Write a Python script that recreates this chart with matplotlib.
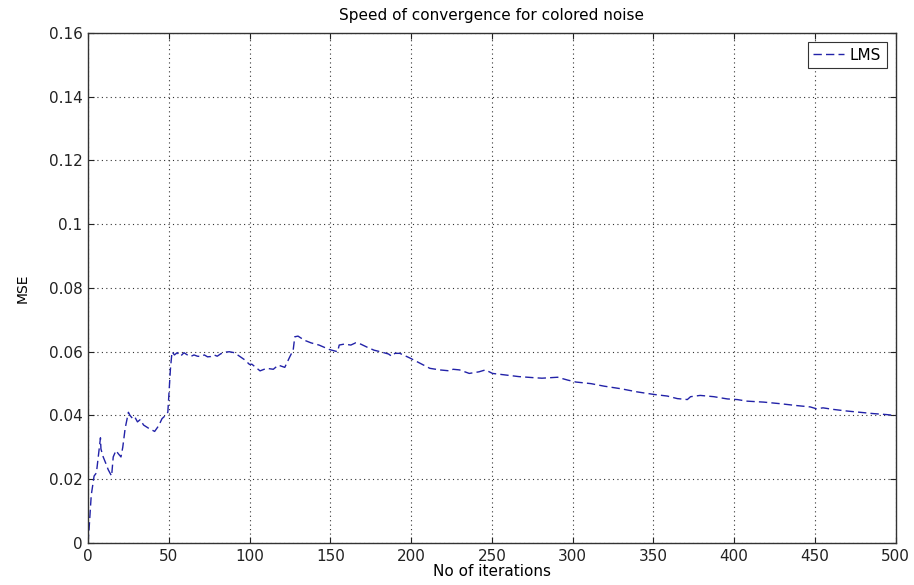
import matplotlib
matplotlib.use("Agg")
import matplotlib.pyplot as plt

plt.rcParams['font.family'] = ['DejaVu Sans']

# iteration number
iters = [0, 0.6, 2, 3.75, 5.2, 7.7, 8, 9.4, 11, 12.5, 14.6, 15.6, 17.3, 18.75, 20.4,
         21.5, 23, 25, 26, 27.7, 29, 30.6, 32.3, 34.4, 37.5, 41.25, 43.75, 45.8, 47.9,
         49.4, 50, 51, 52, 53.5, 55.2, 57.3, 59.4, 61.5, 63.5, 65.6, 67.7, 69.8, 72, 74,
         76, 78, 80, 82.3, 85.4, 87.5, 90.6, 93.75, 96.9, 100, 101.4, 106.5, 110.6, 114.7,
         117.8, 121.8, 124.9, 127, 128, 130, 134, 138, 143, 149.4, 154.5, 155.5, 158.6,
         162.7, 165.7, 168.8, 172.9, 177, 181, 186, 188, 190, 193, 199.4, 205.5, 211.6,
         217.8, 223.9, 226, 230, 236, 242, 246, 250.4, 258.6, 266.7, 274.9, 281, 290.7,
         297, 302, 311.3, 319.5, 329.8, 340, 350.4, 358.6, 364.8, 371, 373, 379, 387.4,
         395.7, 401.9, 408, 418.3, 428.6, 438.9, 447, 451, 455, 461.5, 469.8, 478, 486,
         494, 500]
# mean square error
mse = [0, 0.004, 0.015, 0.021, 0.022, 0.033, 0.0295, 0.027, 0.025, 0.023, 0.021, 0.027,
       0.029, 0.028, 0.027, 0.030, 0.036, 0.041, 0.040, 0.039, 0.0395, 0.038, 0.0387,
       0.037, 0.036, 0.035, 0.0368, 0.039, 0.040, 0.041, 0.046, 0.0545, 0.060, 0.059,
       0.0597, 0.0586, 0.0597, 0.059, 0.0585, 0.059, 0.0586, 0.0585, 0.059, 0.0584,
       0.0585, 0.059, 0.0586, 0.0594, 0.0599, 0.060, 0.0597, 0.0586, 0.0575, 0.056,
       0.0561, 0.054, 0.0548, 0.0545, 0.0558, 0.0551, 0.0584, 0.0605, 0.0647, 0.0649,
       0.0636, 0.0628, 0.0621, 0.0607, 0.060, 0.0621, 0.0624, 0.0621, 0.0628, 0.0624,
       0.0614, 0.0605, 0.060, 0.0593, 0.0586, 0.0595, 0.0595, 0.058, 0.0564, 0.0548,
       0.0543, 0.054, 0.0545, 0.0543, 0.0532, 0.0537, 0.0543, 0.0532, 0.0527, 0.0522,
       0.0519, 0.0517, 0.052, 0.0511, 0.0505, 0.050, 0.0492, 0.0484, 0.0474, 0.0466,
       0.0461, 0.0453, 0.045, 0.0459, 0.0463, 0.0459, 0.0452, 0.045, 0.0445, 0.0442,
       0.0437, 0.0431, 0.0427, 0.0421, 0.0424, 0.0419, 0.0414, 0.041, 0.0406, 0.0403,
       0.040]

xticks = [0, 50, 100, 150, 200, 250, 300, 350, 400, 450, 500]
yticks = [0, 0.02, 0.04, 0.06, 0.08, 0.1, 0.12, 0.14, 0.16]
ytick_labels = ['0', '0.02', '0.04', '0.06', '0.08', '0.1', '0.12', '0.14', '0.16']

fig = plt.figure(figsize=(9.14, 5.85), dpi=100)
ax = fig.add_axes([0.0963, 0.0718, 0.8837, 0.8718])

ax.plot(iters, mse, '--', color='#2222a8', linewidth=1.0, dashes=(6, 3), label='LMS')

ax.set_xlim(0, 500)
ax.set_ylim(0, 0.16)
ax.set_xticks(xticks)
ax.set_yticks(yticks)
ax.set_yticklabels(ytick_labels)
ax.tick_params(direction='in', length=4.5, labelsize=11, colors='#222222', top=True, right=True,
               labeltop=False, labelright=False, pad=4)
ax.grid(True, linestyle=(0, (1, 3)), color='#333333', linewidth=0.8)
for s in ax.spines.values():
    s.set_linewidth(1.0)
    s.set_color('#333333')

ax.set_title('Speed of convergence for colored noise', fontsize=11, pad=9)
ax.set_xlabel('No of iterations', fontsize=11, labelpad=0)
ax.set_ylabel('MSE', fontsize=10, labelpad=14)

leg = ax.legend(loc='upper right', fontsize=11, fancybox=False, framealpha=1,
                edgecolor='#333333', handlelength=2.0, handletextpad=0.4,
                borderaxespad=0.6, borderpad=0.35)
leg.get_frame().set_linewidth(0.8)

fig.savefig('out.png', dpi=100)
